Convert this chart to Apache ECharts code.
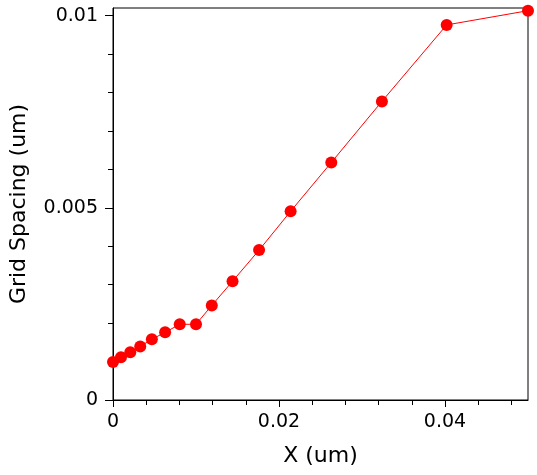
<!DOCTYPE html>
<html>
<head>
    <meta charset="utf-8">
    <title>Grid Spacing</title>
    <script src="https://cdn.jsdelivr.net/npm/echarts@6/dist/echarts.min.js"></script>
    <style type="text/css">
        body { margin: 0; background: #fff; }
    </style>
</head>
<body>
<div id="main" style="width: 537px; height: 475px;"></div>

<script type="text/javascript">
    // data
    var xVals = [0, 0.00096, 0.00208, 0.00328, 0.00468, 0.00628, 0.00804, 0.0100,
                 0.0119, 0.0144, 0.0176, 0.0214, 0.0263, 0.0324, 0.0402, 0.05];
    var yVals = [0.00099, 0.00111, 0.00124, 0.00139, 0.00158, 0.00176, 0.00197, 0.00197,
                 0.00246, 0.00309, 0.0039, 0.00491, 0.00618, 0.00777, 0.00976, 0.01013];
    var xTicks = [0, 0.02, 0.04];
    var xMinor = [0.004, 0.008, 0.012, 0.016, 0.024, 0.028, 0.032, 0.036, 0.044, 0.048];
    var yTicks = [0, 0.005, 0.01];
    var yMinor = [0.001, 0.002, 0.003, 0.004, 0.006, 0.007, 0.008, 0.009];

    var pts = [];
    for (var i = 0; i < xVals.length; i++) {
        pts.push([xVals[i], yVals[i]]);
    }

    var font = 'DejaVu Sans';
    var myChart = echarts.init(document.getElementById('main'));
    myChart.setOption({
        animation: false,
        grid: {
            left: 111, right: 9, top: 8, bottom: 75,
            show: true, borderColor: '#000', borderWidth: 1
        },
        xAxis: [{
            type: 'value', min: 0, max: 0.05, interval: 0.02,
            name: 'X (um)', nameLocation: 'middle', nameGap: 45,
            nameTextStyle: { fontFamily: font, fontSize: 22, color: '#000' },
            axisLine: { lineStyle: { color: '#000', width: 1 } },
            axisTick: { length: 7, customValues: xTicks, lineStyle: { color: '#000' } },
            axisLabel: { customValues: xTicks, margin: 13, fontFamily: font, fontSize: 19, color: '#000' },
            splitLine: { show: false }
        }, {
            type: 'value', min: 0, max: 0.05, position: 'bottom', offset: 0,
            axisLine: { show: false },
            axisTick: { length: 5, customValues: xMinor, lineStyle: { color: '#000' } },
            axisLabel: { show: false },
            splitLine: { show: false }
        }],
        yAxis: [{
            type: 'value', min: 0, max: 0.0102, interval: 0.005,
            name: 'Grid Spacing (um)', nameLocation: 'middle', nameGap: 83,
            nameTextStyle: { fontFamily: font, fontSize: 22, color: '#000' },
            axisLine: { show: true, lineStyle: { color: '#000', width: 1 } },
            axisTick: { show: true, length: 8, customValues: yTicks, lineStyle: { color: '#000' } },
            axisLabel: { customValues: yTicks, margin: 15, fontFamily: font, fontSize: 19, color: '#000' },
            splitLine: { show: false }
        }, {
            type: 'value', min: 0, max: 0.0102, position: 'left', offset: 0,
            axisLine: { show: false },
            axisTick: { show: true, length: 5, customValues: yMinor, lineStyle: { color: '#000' } },
            axisLabel: { show: false },
            splitLine: { show: false }
        }],
        series: [{
            type: 'line',
            data: pts,
            symbol: 'circle',
            symbolSize: 12,
            clip: true,
            itemStyle: { color: '#ff0000' },
            lineStyle: { color: '#ff0000', width: 1 }
        }]
    });
</script>
</body>
</html>
